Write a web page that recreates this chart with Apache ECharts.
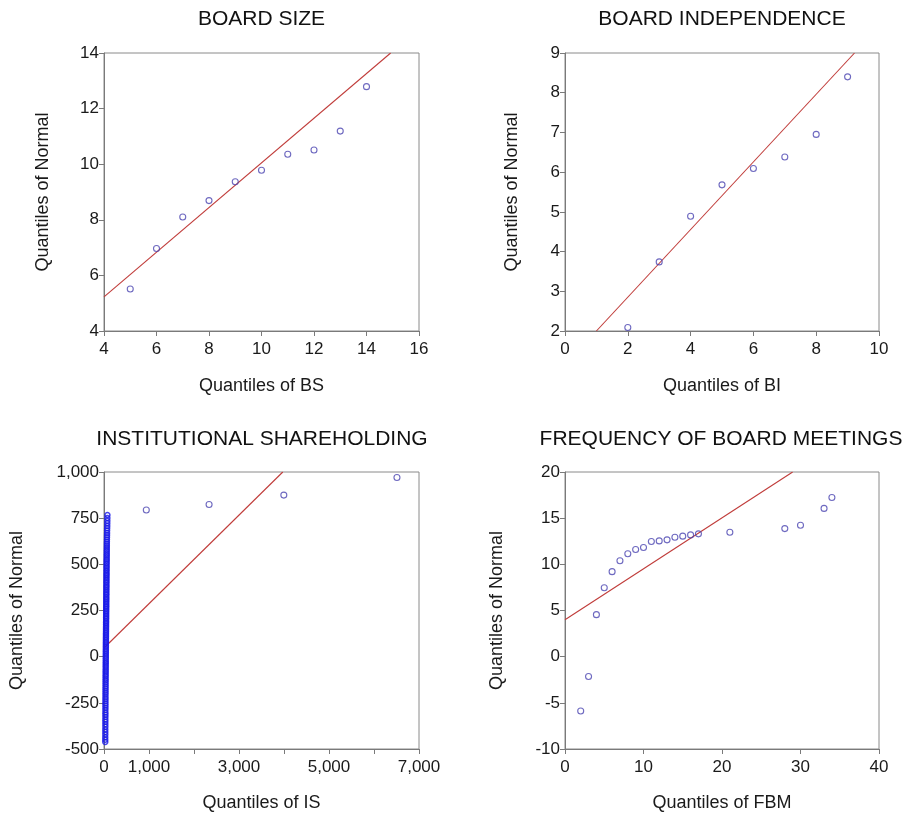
<!DOCTYPE html>
<html>
<head>
<meta charset="utf-8">
<script src="https://cdn.jsdelivr.net/npm/echarts@6/dist/echarts.min.js"></script>
<style>
html,body{margin:0;padding:0;background:#ffffff;}
#chart{width:911px;height:813px;}
</style>
</head>
<body>
<div id="chart"></div>
<script>
// ---------------- DATA ----------------
const panelTitles = ['BOARD SIZE', 'BOARD INDEPENDENCE', 'INSTITUTIONAL SHAREHOLDING', 'FREQUENCY OF BOARD MEETINGS'];
const xAxisNames = ['Quantiles of BS', 'Quantiles of BI', 'Quantiles of IS', 'Quantiles of FBM'];
const yAxisName = 'Quantiles of Normal';

// Board size
const bsX = [5, 6, 7, 8, 9, 10, 11, 12, 13, 14];
const bsY = [5.51, 6.97, 8.10, 8.69, 9.37, 9.78, 10.36, 10.51, 11.19, 12.79];
const bsLineX = [4, 14.92];
const bsLineY = [5.23, 14];

// Board independence
const biX = [2, 3, 4, 5, 6, 7, 8, 9];
const biY = [2.09, 3.74, 4.89, 5.68, 6.09, 6.38, 6.95, 8.40];
const biLineX = [1.0, 9.22];
const biLineY = [2, 9];

// Institutional shareholding (dense cluster near zero + outliers)
const isClusterY = [767, 751, 736, 722, 708, 695, 683, 670, 658, 646, 634, 622,
  611, 600, 590, 579, 569, 558, 549, 539, 528, 519, 509, 500, 490, 481, 471, 462,
  452, 443, 434, 424, 415, 406, 397, 387, 378, 369, 360, 350, 341, 332, 322, 313,
  304, 295, 285, 276, 267, 258, 248, 239, 230, 220, 211, 202, 192, 183, 174, 165,
  155, 146, 136, 127, 118, 108, 99, 89, 80, 71, 61, 52, 42, 32, 23, 13, 4, -6,
  -16, -26, -36, -46, -56, -67, -77, -87, -98, -108, -119, -129, -140, -151, -162,
  -173, -184, -195, -206, -218, -229, -241, -253, -265, -277, -289, -302, -314,
  -327, -340, -353, -366, -380, -394, -408, -422, -436, -450, -462];
const isClusterX = [76, 75, 74, 73, 72, 70, 69, 68, 67, 66, 65, 64,
  63, 63, 62, 62, 61, 61, 60, 60, 59, 59, 58, 58, 57, 57, 57, 56,
  56, 56, 55, 55, 55, 54, 54, 54, 53, 53, 53, 52, 52, 52, 51, 51,
  51, 50, 50, 50, 49, 49, 49, 48, 48, 48, 47, 47, 47, 46, 46, 46,
  45, 45, 45, 44, 44, 44, 43, 43, 43, 42, 42, 42, 41, 41, 41, 40, 40, 40,
  39, 39, 39, 38, 38, 38, 37, 37, 37, 36, 36, 36, 35, 35, 35,
  34, 34, 34, 33, 33, 33, 32, 32, 32, 32, 31, 31, 31,
  31, 30, 30, 30, 30, 29, 29, 29, 28, 28, 28];
const isOutX = [940, 2335, 3996, 6510];
const isOutY = [794, 824, 875, 970];
const isLineX = [0, 3973];
const isLineY = [47, 1000];
const isXTickLabels = [0, 1000, 3000, 5000, 7000];

// Frequency of board meetings
const fbmX = [2, 3, 4, 5, 6, 7, 8, 9, 10, 11, 12, 13, 14, 15, 16, 17, 21, 28, 30, 33, 34];
const fbmY = [-5.88, -2.15, 4.55, 7.46, 9.21, 10.39, 11.15, 11.61, 11.83, 12.47, 12.54, 12.65, 12.94, 13.05, 13.19, 13.30, 13.48, 13.87, 14.23, 16.06, 17.24];
const fbmLineX = [0, 29.0];
const fbmLineY = [4.0, 20];

// Axis ranges [min, max, interval]
const xRanges = [[4, 16, 2], [0, 10, 2], [0, 7000, 1000], [0, 40, 10]];
const yRanges = [[4, 14, 2], [2, 9, 1], [-500, 1000, 250], [-10, 20, 5]];

// ---------------- STYLE / LAYOUT ----------------
const FONT = '"Liberation Sans", Arial, Helvetica, sans-serif';
const AXIS_COLOR = '#7a7a7a';
const POINT_COLOR = '#4a44b0';
const CLUSTER_COLOR = '#1818e8';
const LINE_COLOR = '#c03c3a';

const grids = [
  {left: 104, top: 53, width: 315, height: 278},
  {left: 565, top: 53, width: 314, height: 278},
  {left: 104, top: 472, width: 315, height: 279},
  {left: 565, top: 472, width: 314, height: 279}
];
const titleCenters = [[261.5, 19], [722, 19], [262, 439], [721, 439]];
const yNameGaps = [52, 44, 78, 59];
const xNameGaps = [46, 46, 45, 45];

function pairs(xs, ys) { return xs.map((x, i) => [x, ys[i]]); }
function fmt(v) { return Number(v).toLocaleString('en-US'); }

function axis(gi, range, name, gap, isY, formatter) {
  return {
    type: 'value', gridIndex: gi,
    min: range[0], max: range[1], interval: range[2],
    name: name, nameLocation: 'middle', nameGap: gap,
    nameRotate: isY ? 90 : 0,
    nameTextStyle: {fontFamily: FONT, fontSize: 18, color: '#1a1a1a'},
    axisLine: {show: true, onZero: false, lineStyle: {color: AXIS_COLOR, width: 1}},
    axisTick: {show: true, inside: false, length: 5, lineStyle: {color: AXIS_COLOR, width: 1}},
    axisLabel: {fontFamily: FONT, fontSize: 17, color: '#1a1a1a', margin: isY ? 5 : 10,
      showMinLabel: true, showMaxLabel: true, formatter: formatter || fmt},
    splitLine: {show: false}
  };
}

const xAxes = xRanges.map((r, i) => axis(i, r, xAxisNames[i], xNameGaps[i], false,
  i === 2 ? (v => isXTickLabels.includes(v) ? fmt(v) : '') : null));
const yAxes = yRanges.map((r, i) => axis(i, r, yAxisName, yNameGaps[i], true, null));

const pointSets = [pairs(bsX, bsY), pairs(biX, biY), pairs(isOutX, isOutY), pairs(fbmX, fbmY)];
const lineSets = [pairs(bsLineX, bsLineY), pairs(biLineX, biLineY), pairs(isLineX, isLineY), pairs(fbmLineX, fbmLineY)];

const series = [];
for (let i = 0; i < 4; i++) {
  series.push({
    type: 'line', xAxisIndex: i, yAxisIndex: i, data: lineSets[i],
    symbol: 'none', clip: true, silent: true, z: 2,
    lineStyle: {color: LINE_COLOR, width: 1.1}
  });
  series.push({
    type: 'scatter', xAxisIndex: i, yAxisIndex: i, data: pointSets[i],
    symbol: 'circle', symbolSize: 6, z: 3,
    itemStyle: {color: 'rgba(0,0,0,0)', borderColor: POINT_COLOR, borderWidth: 1.1}
  });
}
series.push({
  type: 'scatter', xAxisIndex: 2, yAxisIndex: 2, data: pairs(isClusterX, isClusterY),
  symbol: 'circle', symbolSize: 5, z: 3,
  itemStyle: {color: 'rgba(0,0,0,0)', borderColor: CLUSTER_COLOR, borderWidth: 1.5}
});

const option = {
  backgroundColor: '#ffffff',
  animation: false,
  title: panelTitles.map((t, i) => ({
    text: t, left: titleCenters[i][0], top: titleCenters[i][1] - 10,
    textAlign: 'center', padding: 0,
    textStyle: {fontFamily: FONT, fontSize: 21, fontWeight: 'normal', color: '#111111'}
  })),
  grid: grids.map(g => Object.assign({show: true, borderColor: '#8a8a8a', borderWidth: 1,
    backgroundColor: 'transparent', containLabel: false}, g)),
  xAxis: xAxes,
  yAxis: yAxes,
  series: series
};

const chart = echarts.init(document.getElementById('chart'), null, {renderer: 'canvas'});
chart.setOption(option);
</script>
</body>
</html>
